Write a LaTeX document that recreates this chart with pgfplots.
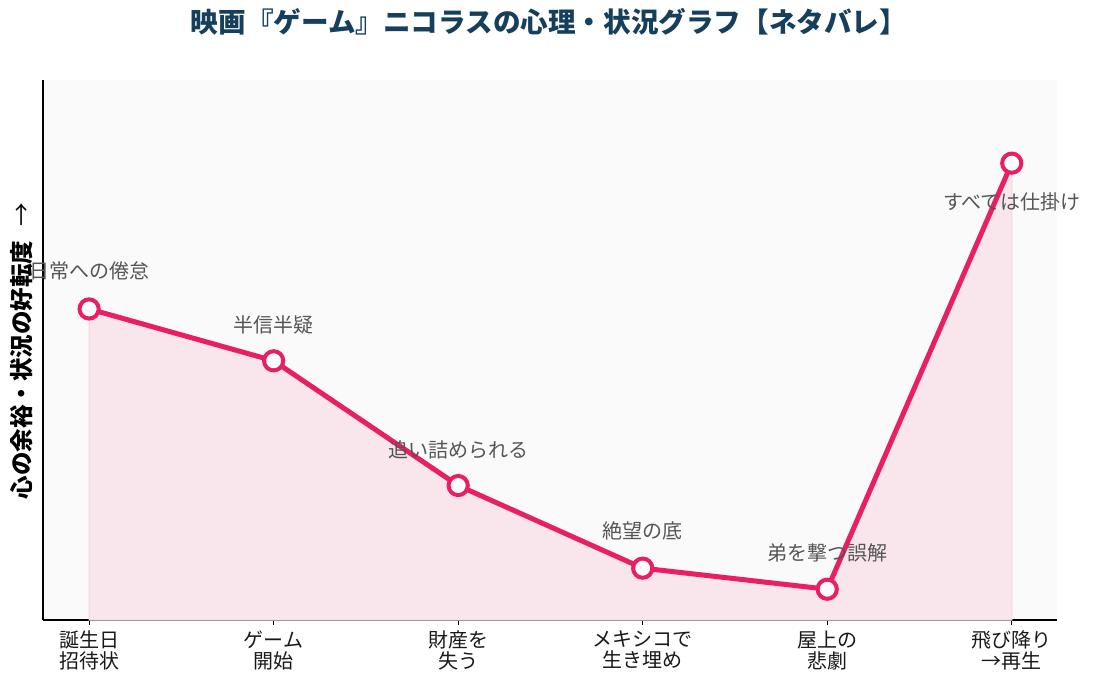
\documentclass[border=0pt]{standalone}
\usepackage{fontspec}
\usepackage{pgfplots}
\pgfplotsset{compat=1.18}
\setmainfont{Noto Sans CJK JP}
\definecolor{pinkline}{HTML}{E91E63}
\definecolor{fillc}{HTML}{F8E6EC}
\definecolor{filledge}{HTML}{F3D6E0}
\definecolor{bgc}{HTML}{FAFAFA}
\definecolor{titlec}{HTML}{163F5C}
\definecolor{annc}{HTML}{555555}
\pgfplotstableread{
x y
0 57.6
1 48.0
2 24.9
3 9.6
4 5.7
5 84.6
}\datatable
\begin{document}
\begin{tikzpicture}
\path[use as bounding box] (-43pt,-69pt) rectangle (1055pt,620pt);
\begin{axis}[
  at={(0pt,0pt)}, anchor=south west,
  scale only axis, width=1014pt, height=540pt,
  xmin=-0.25, xmax=5.245, ymin=0, ymax=100,
  axis x line*=bottom, axis y line*=left,
  axis line style={-, black, line width=1.1pt},
  ytick=\empty,
  xtick={0,1,2,3,4,5},
  xticklabels={{誕生日\\招待状},{ゲーム\\開始},{財産を\\失う},{メキシコで\\生き埋め},{屋上の\\悲劇},{飛び降り\\→再生}},
  xticklabel style={align=center, font=\fontsize{20}{21.5}\selectfont, text=black!90, yshift=-2pt},
  tick align=outside, major tick length=5pt,
  x tick style={black, line width=1.1pt},
  axis background/.style={fill=bgc},
  clip=false,
]
\addplot[fill=fillc, draw=filledge, line width=1pt] table[x=x,y=y] {\datatable} \closedcycle;
\addplot[pinkline, line width=5pt, mark=*, mark size=9.6pt,
  mark options={fill=white, draw=pinkline, line width=4pt}] table[x=x,y=y] {\datatable};
\node[text=annc, font=\fontsize{20}{24}\selectfont, yshift=38pt] at (axis cs:0,57.6) {日常への倦怠};
\node[text=annc, font=\fontsize{20}{24}\selectfont, yshift=36pt] at (axis cs:1,48.0) {半信半疑};
\node[text=annc, font=\fontsize{20}{24}\selectfont, yshift=36pt] at (axis cs:2,24.9) {追い詰められる};
\node[text=annc, font=\fontsize{20}{24}\selectfont, yshift=37pt] at (axis cs:3,9.6) {絶望の底};
\node[text=annc, font=\fontsize{20}{24}\selectfont, yshift=36pt] at (axis cs:4,5.7) {弟を撃つ誤解};
\node[text=annc, font=\fontsize{20}{24}\selectfont, yshift=-39pt] at (axis cs:5,84.6) {すべては仕掛け};
\end{axis}
\node[font=\bfseries\fontsize{27.6}{30}\selectfont, text=titlec] at (506pt,598pt) {映画『ゲーム』ニコラスの心理・状況グラフ【ネタバレ】};
\node[rotate=90, font=\bfseries\fontsize{23.5}{26}\selectfont] at (-21pt,269pt) {心の余裕・状況の好転度\hspace{0.6em}{\mdseries →}};
\end{tikzpicture}
\end{document}
